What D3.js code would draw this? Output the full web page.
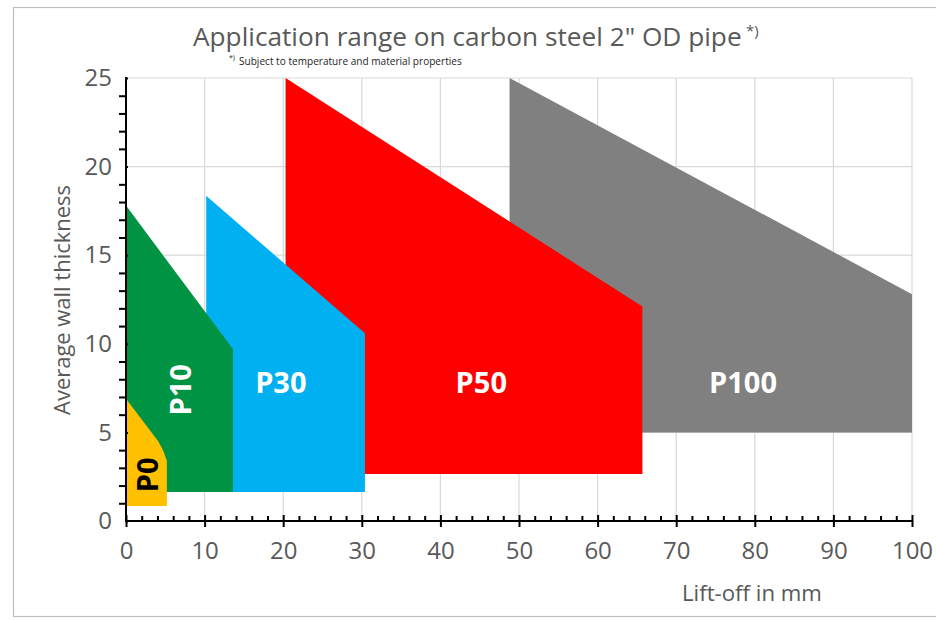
<!DOCTYPE html>
<html><head><meta charset="utf-8">
<script src="https://cdn.jsdelivr.net/npm/d3@7/dist/d3.min.js"></script>
<style>body{margin:0;background:#fff;} text{font-family:"Open Sans",sans-serif;}</style>
</head><body><svg id="c" width="936" height="620"></svg>
<script>
// ---- data ----
const seriesNames = ["P100","P50","P30","P10","P0"];
const seriesColors = ["#808080","#FF0000","#00B0F0","#009343","#FFC000"];
const p100Pts = [[48.8,5.0],[48.8,25.0],[100,12.8],[100,5.0]];
const p50Pts  = [[20.3,2.65],[20.3,25.0],[65.7,12.1],[65.7,2.65]];
const p30Pts  = [[10.2,1.64],[10.2,18.35],[30.4,10.6],[30.4,1.64]];
const p10Pts  = [[0,1.64],[0,17.8],[13.6,9.7],[13.6,1.64]];
const p0Pts   = [[0,0.85],[0,6.9],[4.1,4.5],[4.7,4.0],[5.2,3.4],[5.2,0.85]];
const seriesPts = [p100Pts,p50Pts,p30Pts,p10Pts,p0Pts];
// label anchors (data units) and rotation
const labelX = [78.5,45.2,19.7,6.9,2.7];
const labelY = [7.8,7.8,7.8,7.4,2.6];
const labelRot = [0,0,0,-90,-90];
const labelColor = ["#fff","#fff","#fff","#fff","#000"];
const xTicks = [0,10,20,30,40,50,60,70,80,90,100];
const yTicks = [0,5,10,15,20,25];
const xMinor = d3.range(0,101,2).filter(v=>v%10!==0);
const yMinor = d3.range(0,26,1).filter(v=>v%5!==0);
const titleText = "Application range on carbon steel 2\" OD pipe";
const noteText = "Subject to temperature and material properties";
const xLabel = "Lift-off in mm";
const yLabel = "Average wall thickness";

// ---- chart ----
const svg = d3.select("#c");
const L=126, R=912, T=78, B=521;
const x = d3.scaleLinear().domain([0,100]).range([L,R]);
const y = d3.scaleLinear().domain([0,25]).range([B,T]);

function fit(sel, target){
  const fs = parseFloat(sel.attr("font-size"));
  const w = sel.node().getComputedTextLength();
  sel.attr("font-size", fs*target/w);
}

// outer border
svg.append("rect").attr("x",13.5).attr("y",7.5).attr("width",940).attr("height",609)
  .attr("fill","none").attr("stroke","#BFBFBF").attr("stroke-width",1.2);

// gridlines
svg.append("g").selectAll("line").data(xTicks.filter(v=>v>0)).join("line")
  .attr("x1",d=>x(d)).attr("x2",d=>x(d)).attr("y1",y(0)).attr("y2",y(25))
  .attr("stroke","#D9D9D9").attr("stroke-width",1.2);
svg.append("g").selectAll("line").data(yTicks.filter(v=>v>0)).join("line")
  .attr("x1",x(0)).attr("x2",x(100)).attr("y1",d=>y(d)).attr("y2",d=>y(d))
  .attr("stroke","#D9D9D9").attr("stroke-width",1.2);

// polygons
const line = d3.line().x(d=>x(d[0])).y(d=>y(d[1])).curve(d3.curveLinearClosed);
svg.append("g").selectAll("path").data(seriesPts).join("path")
  .attr("d",d=>line(d)).attr("fill",(d,i)=>seriesColors[i]);

// labels
svg.append("g").selectAll("text").data(seriesNames).join("text")
  .attr("transform",(d,i)=>`translate(${x(labelX[i])},${y(labelY[i])}) rotate(${labelRot[i]})`)
  .attr("text-anchor","middle").attr("dy","0.36em")
  .attr("font-size",29).attr("font-weight","bold")
  .attr("fill",(d,i)=>labelColor[i]).text(d=>d);

// axes
const xMinAx = svg.append("g").attr("transform",`translate(0,${B})`)
  .call(d3.axisTop(x).tickValues(xMinor).tickSize(5).tickFormat(""));
const xAx = svg.append("g").attr("transform",`translate(0,${B})`)
  .call(d3.axisBottom(x).tickValues(xTicks).tickSize(6).tickPadding(15));
xAx.selectAll(".tick line").attr("y1",-6);
const yMinAx = svg.append("g").attr("transform",`translate(${L},0)`)
  .call(d3.axisLeft(y).tickValues(yMinor).tickSize(7).tickFormat(""));
const yAx = svg.append("g").attr("transform",`translate(${L},0)`)
  .call(d3.axisLeft(y).tickValues(yTicks).tickSize(8).tickPadding(6));
yAx.selectAll(".tick line").attr("x2",2);
[xMinAx,xAx,yMinAx,yAx].forEach(g=>{
  g.select(".domain").remove();
  g.selectAll(".tick line").attr("stroke","#000").attr("stroke-width",2);
});
[xAx,yAx].forEach(g=>g.selectAll(".tick text").attr("font-size",24)
  .attr("fill","#595959").attr("font-family","Open Sans"));
svg.append("line").attr("x1",L).attr("x2",R+1).attr("y1",B).attr("y2",B).attr("stroke","#000").attr("stroke-width",2);
svg.append("line").attr("x1",L).attr("x2",L).attr("y1",T-1).attr("y2",B+1).attr("stroke","#000").attr("stroke-width",2);

// title
const title = svg.append("text").attr("x",193).attr("y",46).attr("font-size",26).attr("fill","#595959").text(titleText);
fit(title, 549);
svg.append("text").attr("x",746).attr("y",36).attr("font-size",15).attr("fill","#595959").text("*)");
svg.append("text").attr("x",229).attr("y",60).attr("font-size",7).attr("fill","#262626").text("*)");
const note = svg.append("text").attr("x",239).attr("y",65).attr("font-size",10).attr("fill","#262626").text(noteText);
fit(note, 223);

// axis titles
const xl = svg.append("text").attr("x",682).attr("y",601).attr("font-size",20).attr("fill","#595959").text(xLabel);
fit(xl, 140);
const yl = svg.append("text").attr("transform",`translate(70,300) rotate(-90)`).attr("text-anchor","middle")
  .attr("font-size",20).attr("fill","#595959").text(yLabel);
fit(yl, 230);
</script></body></html>
